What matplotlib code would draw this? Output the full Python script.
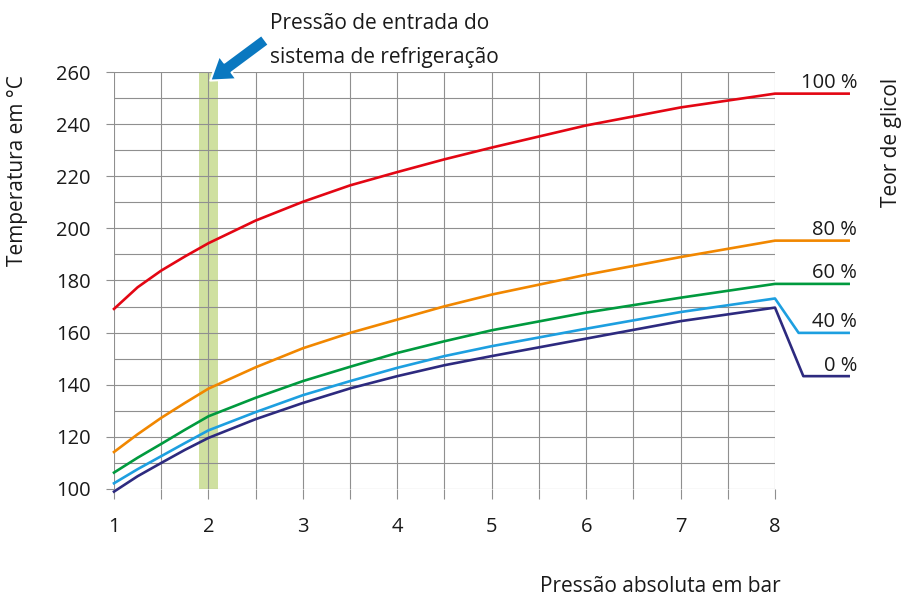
import matplotlib
matplotlib.use('Agg')
import matplotlib.pyplot as plt
import numpy as np

plt.rcParams['font.family'] = ['Open Sans', 'DejaVu Sans']

pressure = [1, 1.25, 1.5, 1.75, 2, 2.5, 3, 3.5, 4, 4.5, 5, 6, 7, 8]

t_100 = [169.1, 177.4, 183.8, 189.2, 194.3, 203.0, 210.2, 216.5, 221.6, 226.5, 231.0, 239.5, 246.4, 251.7]
t_80 = [114.2, 121.0, 127.3, 133.0, 138.5, 146.7, 154.0, 159.9, 165.0, 170.1, 174.6, 182.2, 189.0, 195.3]
t_60 = [106.3, 112.0, 117.3, 122.7, 127.9, 135.0, 141.4, 146.9, 152.2, 156.7, 160.9, 167.7, 173.4, 178.7]
t_40 = [102.2, 107.6, 112.6, 117.6, 122.5, 129.5, 136.0, 141.4, 146.5, 151.0, 154.8, 161.5, 167.9, 173.1]
t_0 = [99.0, 104.9, 110.0, 115.0, 119.6, 126.8, 133.0, 138.6, 143.3, 147.5, 151.0, 157.7, 164.4, 169.6]

# tails to the right of the grid, after x = 8
tail_x = {'100 %': [8.78], '80 %': [8.78], '60 %': [8.78],
          '40 %': [8.25, 8.78], '0 %': [8.30, 8.78]}
tail_y = {'100 %': [251.7], '80 %': [195.3], '60 %': [178.7],
          '40 %': [159.9, 159.9], '0 %': [143.3, 143.3]}

series = [('100 %', t_100, '#e30613'),
          ('80 %', t_80, '#f18700'),
          ('60 %', t_60, '#009a3e'),
          ('40 %', t_40, '#1d9fe0'),
          ('0 %', t_0, '#2d2a7f')]

band = (1.9, 2.1)

fig = plt.figure(figsize=(9.02, 5.97), dpi=100)
ax = fig.add_axes([114/902, 108/597, (775-114)/902, (489-72)/597])

ax.axvspan(band[0], band[1], color='#cfe0a0', lw=0, zorder=0)

for name, vals, col in series:
    xs = pressure + tail_x[name]
    ys = vals + tail_y[name]
    ax.plot(xs, ys, color=col, lw=1.9, clip_on=False, zorder=3)
    ax.annotate(name, xy=(8.87, tail_y[name][-1]), xytext=(0, 4),
                textcoords='offset points', ha='right', va='baseline',
                fontsize=14.5, color='#1a1a1a', annotation_clip=False)

ax.set_xlim(1, 8)
ax.set_ylim(100, 260)
ax.set_xticks(range(1, 9))
ax.set_xticks(np.arange(1.5, 8, 1), minor=True)
ax.set_yticks(range(100, 261, 20))
ax.set_yticks(range(110, 260, 20), minor=True)
ax.grid(True, which='both', color='#8f8f8f', lw=0.8)
for s in ax.spines.values():
    s.set_visible(False)
ax.tick_params(axis='x', which='both', length=7.5, width=0.8, color='#8f8f8f',
               pad=13, labelsize=14.5, labelcolor='#1a1a1a')
ax.tick_params(axis='y', which='both', length=6, width=0.8, color='#8f8f8f',
               pad=11, labelsize=14.5, labelcolor='#1a1a1a')
ax.tick_params(axis='y', which='minor', length=0)

# arrow pointing at the band
ax.annotate('', xy=(2.02, 256.7), xytext=(2.6, 272.3),
            arrowprops=dict(arrowstyle='simple,head_length=0.75,head_width=1.0,tail_width=0.42',
                            fc='#0a78c0', ec='white', lw=1.5, mutation_scale=21,
                            shrinkA=0, shrinkB=0),
            annotation_clip=False, zorder=5)

fig.text(270/902, 1 - 13/597, 'Pressão de entrada do\nsistema de refrigeração',
         ha='left', va='top', fontsize=15, linespacing=1.8, color='#1a1a1a')
fig.text(18/902, 1 - 171/597, 'Temperatura em °C', rotation=90,
         ha='center', va='center', fontsize=15, color='#1a1a1a')
fig.text(891/902, 1 - 142/597, 'Teor de glicol', rotation=90,
         ha='center', va='center', fontsize=15, color='#1a1a1a')
fig.text(781/902, 1 - 592/597, 'Pressão absoluta em bar',
         ha='right', va='baseline', fontsize=15, color='#1a1a1a')

fig.savefig('out.png', dpi=100)
